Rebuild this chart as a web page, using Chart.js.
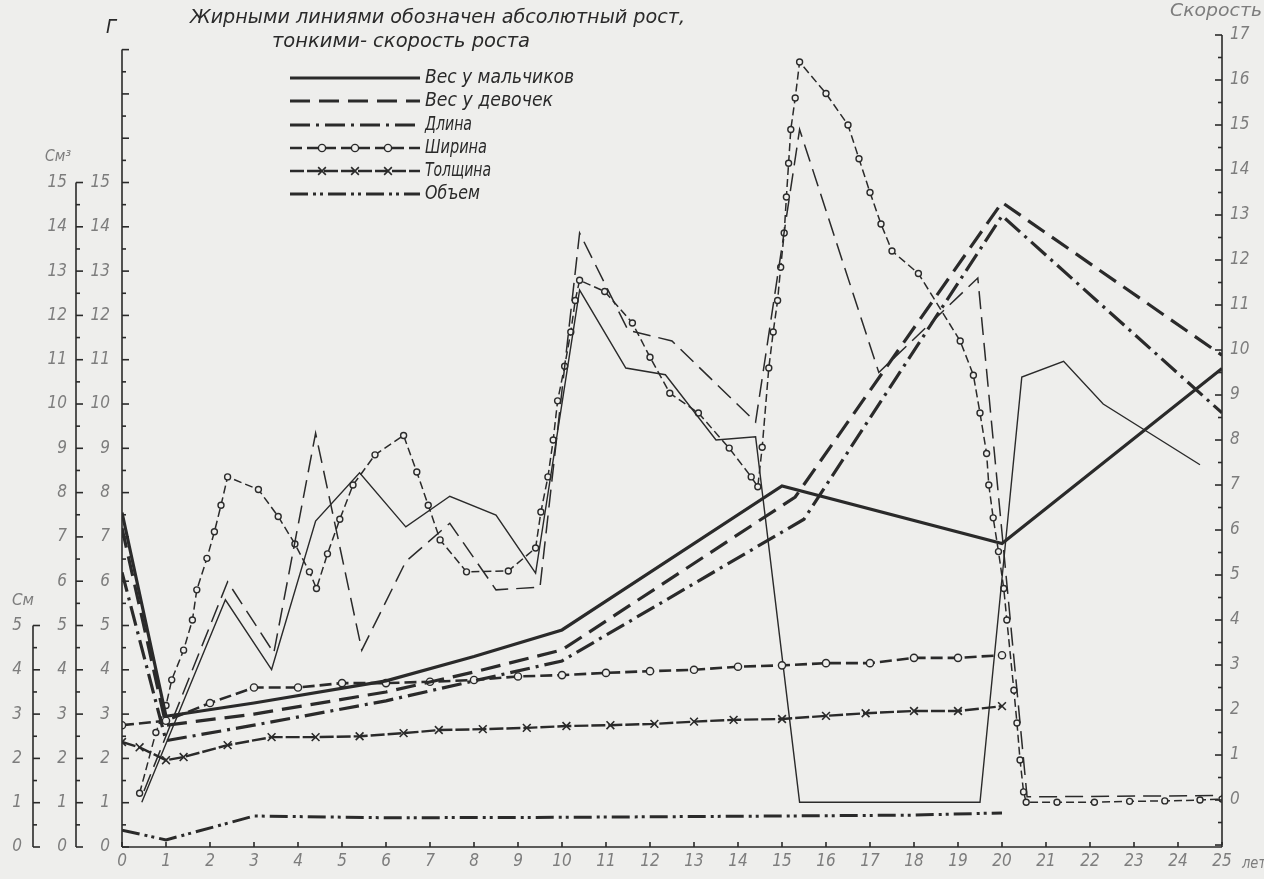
<!DOCTYPE html>
<html lang="ru">
<head>
<meta charset="utf-8">
<title>Абсолютный рост и скорость роста</title>
<script src="https://cdn.jsdelivr.net/npm/chart.js@4.4.1/dist/chart.umd.min.js"></script>
<style>
  html, body { margin: 0; padding: 0; background: #eeeeec; }
  #chart { display: block; }
</style>
</head>
<body>
<canvas id="chart" width="1264" height="879"></canvas>
<script>
// Tick labels
const years = [0, 1, 2, 3, 4, 5, 6, 7, 8, 9, 10, 11, 12, 13, 14, 15, 16, 17, 18, 19, 20, 21, 22, 23, 24, 25];
const gTicks = [0, 1, 2, 3, 4, 5, 6, 7, 8, 9, 10, 11, 12, 13, 14, 15];
const cm3Ticks = [0, 1, 2, 3, 4, 5, 6, 7, 8, 9, 10, 11, 12, 13, 14, 15];
const cmTicks = [0, 1, 2, 3, 4, 5];
const speedTicks = [0, 1, 2, 3, 4, 5, 6, 7, 8, 9, 10, 11, 12, 13, 14, 15, 16, 17];

const seriesNames = ["Вес у мальчиков", "Вес у девочек", "Длина", "Ширина", "Толщина", "Объем"];

// Absolute growth (thick lines, left scales: г, см, см³)
const boysWeightX = [0, 1, 3, 6, 8, 10, 11, 15, 20, 25];
const boysWeight = [7.55, 2.95, 3.25, 3.75, 4.3, 4.9, 5.55, 8.15, 6.85, 10.8];
const girlsWeightX = [0, 1, 3, 6, 8, 10, 15.3, 20, 25];
const girlsWeight = [7.2, 2.75, 3.0, 3.5, 3.95, 4.45, 7.9, 14.55, 11.1];
const lengthX = [0, 1, 3, 6, 8, 10, 15.5, 20, 25];
const lengthAbs = [6.2, 2.4, 2.75, 3.3, 3.75, 4.2, 7.4, 14.25, 9.8];
const widthX = [0, 1, 2, 3, 4, 5, 6, 7, 8, 9, 10, 11, 12, 13, 14, 15, 16, 17, 18, 19, 20];
const widthAbs = [2.75, 2.85, 3.25, 3.6, 3.6, 3.7, 3.7, 3.73, 3.77, 3.85, 3.88, 3.93, 3.97, 4.0, 4.07, 4.1, 4.15, 4.15, 4.27, 4.27, 4.33];
const thickX = [0, 0.4, 1, 1.4, 2.4, 3.4, 4.4, 5.4, 6.4, 7.2, 8.2, 9.2, 10.1, 11.1, 12.1, 13, 13.9, 15, 16, 16.9, 18, 19, 20];
const thickAbs = [2.37, 2.25, 1.96, 2.03, 2.3, 2.48, 2.48, 2.5, 2.57, 2.64, 2.66, 2.69, 2.73, 2.75, 2.78, 2.83, 2.87, 2.89, 2.96, 3.02, 3.07, 3.07, 3.18];
const volumeX = [0, 1, 3, 6, 10, 15, 18, 20];
const volumeAbs = [0.38, 0.16, 0.7, 0.66, 0.67, 0.7, 0.72, 0.77];

// Growth speed (thin lines, right scale)
const boysSpeedX = [0.45, 2.35, 3.4, 4.4, 5.4, 6.45, 7.45, 8.5, 9.4, 10.4, 11.45, 12.35, 13.5, 14.4, 15.4, 19.5, 20.45, 21.4, 22.3, 24.5];
const boysSpeed = [-0.05, 4.45, 2.9, 6.2, 7.27, 6.07, 6.75, 6.33, 5.04, 11.33, 9.6, 9.45, 8.0, 8.07, -0.05, -0.05, 9.4, 9.75, 8.8, 7.45];
const girlsSpeedX = [0.5, 2.4, 3.45, 4.4, 5.45, 6.45, 7.45, 8.5, 9.5, 10.4, 11.5, 12.5, 14.4, 15.4, 17.2, 19.45, 20.57, 25];
const girlsSpeed = [0.2, 4.85, 3.27, 8.15, 3.33, 5.3, 6.15, 4.67, 4.73, 12.6, 10.44, 10.2, 8.4, 14.9, 9.5, 11.6, 0.07, 0.1];
const widthSpeedX = [0.4, 0.77, 1.0, 1.13, 1.4, 1.6, 1.7, 1.93, 2.1, 2.25, 2.4, 3.1, 3.55, 3.93, 4.26, 4.42, 4.67, 4.95, 5.25, 5.75, 6.4,
  6.7, 6.96, 7.23, 7.83, 8.78, 9.4, 9.52, 9.68, 9.8, 9.9, 10.06, 10.2, 10.3, 10.4, 10.97, 11.6, 12.0, 12.45, 13.1, 13.8, 14.3, 14.45,
  14.55, 14.7, 14.8, 14.9, 14.97, 15.05, 15.1, 15.15, 15.2, 15.3, 15.4, 16.0, 16.5, 16.75, 17.0, 17.25, 17.5, 18.1, 19.05, 19.35, 19.5,
  19.65, 19.7, 19.8, 19.92, 20.04, 20.11, 20.27, 20.34, 20.41, 20.49, 20.55, 21.25, 22.1, 22.9, 23.7, 24.5, 25];
const widthSpeed = [0.15, 1.5, 2.1, 2.67, 3.33, 4.0, 4.67, 5.37, 5.96, 6.55, 7.18, 6.9, 6.3, 5.69, 5.07, 4.7, 5.47, 6.24, 7.0, 7.67, 8.1,
  7.29, 6.55, 5.78, 5.07, 5.09, 5.6, 6.4, 7.18, 8.0, 8.87, 9.64, 10.4, 11.1, 11.55, 11.3, 10.6, 9.84, 9.04, 8.6, 7.82, 7.18, 6.96,
  7.84, 9.6, 10.4, 11.1, 11.84, 12.6, 13.4, 14.15, 14.9, 15.6, 16.4, 15.7, 15.0, 14.25, 13.5, 12.8, 12.2, 11.7, 10.2, 9.44, 8.6,
  7.7, 7.0, 6.27, 5.52, 4.7, 4.0, 2.44, 1.71, 0.89, 0.18, -0.05, -0.05, -0.05, -0.03, -0.02, 0.0, 0.02];

// Styling
const INK = "#2a2a2a";
const TICK_INK = "#7d7d7d";
const PAPER = "#eeeeec";
const FAMILY = "'DejaVu Sans Condensed', 'Liberation Sans Narrow', 'DejaVu Sans', sans-serif";
const LEFT_MAX = 18.33;
const RIGHT_MIN = -1.044;

function pts(xs, ys) {
  return xs.map((x, i) => ({ x: x, y: ys[i] }));
}

function fixedTicks(values) {
  return (scale) => {
    scale.ticks = values.map((v) => ({ value: v }));
  };
}

const tickFont = { family: FAMILY, size: 17, style: "italic" };

function line(ctx, x1, y1, x2, y2) {
  ctx.beginPath();
  ctx.moveTo(x1, y1);
  ctx.lineTo(x2, y2);
  ctx.stroke();
}

// Draws italic text squeezed/stretched to a given width
function fitText(ctx, str, x, y, size, width, align, color) {
  ctx.save();
  ctx.font = "italic " + size + "px " + FAMILY;
  const w = ctx.measureText(str).width;
  ctx.translate(x, y);
  ctx.scale(width ? width / w : 1, 1);
  ctx.textAlign = align || "left";
  ctx.textBaseline = "middle";
  ctx.fillStyle = color || INK;
  ctx.fillText(str, 0, 0);
  ctx.restore();
}

function leftAxis(ctx, sc, top) {
  const x = sc.right;
  line(ctx, x, sc.getPixelForValue(0), x, sc.getPixelForValue(top));
  for (let v = 0; v <= top + 1e-6; v += 0.5) {
    const y = sc.getPixelForValue(v);
    line(ctx, x, y, x + (v % 1 === 0 ? 7 : 4), y);
  }
}

function drawMarker(ctx, style, x, y, r) {
  ctx.save();
  ctx.setLineDash([]);
  ctx.beginPath();
  if (style === "circle") {
    ctx.arc(x, y, r, 0, Math.PI * 2);
    ctx.fillStyle = PAPER;
    ctx.fill();
    ctx.stroke();
  } else {
    ctx.moveTo(x - r * 0.7, y - r * 0.7);
    ctx.lineTo(x + r * 0.7, y + r * 0.7);
    ctx.moveTo(x + r * 0.7, y - r * 0.7);
    ctx.lineTo(x - r * 0.7, y + r * 0.7);
    ctx.stroke();
  }
  ctx.restore();
}

const decor = {
  id: "decor",
  afterDraw(chart) {
    const ctx = chart.ctx;
    const s = chart.scales;
    ctx.save();
    ctx.strokeStyle = INK;
    ctx.lineWidth = 1.6;

    // left axes, ticks pointing into the plot
    leftAxis(ctx, s.y, 18);
    leftAxis(ctx, s.yCm3, 15);
    leftAxis(ctx, s.yCm, 5);

    // right (speed) axis
    const xr = s.yR.left;
    line(ctx, xr, s.yR.getPixelForValue(-1), xr, s.yR.getPixelForValue(17));
    for (let v = -1; v <= 17 + 1e-6; v += 0.5) {
      const y = s.yR.getPixelForValue(v);
      line(ctx, xr, y, xr - (v % 1 === 0 ? 7 : 4), y);
    }

    // age axis
    const yb = s.x.top;
    line(ctx, s.x.getPixelForValue(0), yb, s.x.getPixelForValue(25), yb);
    years.forEach((v) => {
      const x = s.x.getPixelForValue(v);
      line(ctx, x, yb, x, yb - 5);
    });

    // axis titles
    fitText(ctx, "Г", 106, 28, 20, 0, "left", INK);
    fitText(ctx, "См³", 45, 157, 15, 26, "left", TICK_INK);
    fitText(ctx, "См", 12, 601, 15, 22, "left", TICK_INK);
    fitText(ctx, "Скорость", 1262, 12, 17, 92, "right", TICK_INK);
    fitText(ctx, "лет", 1242, 864, 16, 24, "left", TICK_INK);

    // legend
    fitText(ctx, "Жирными линиями обозначен абсолютный рост,", 190, 18, 19, 495, "left", INK);
    fitText(ctx, "тонкими- скорость роста", 272, 42, 19, 258, "left", INK);
    const rowY = [78, 101, 125, 148, 171, 194];
    const textW = [149, 128, 47, 62, 66, 55];
    seriesNames.forEach((name, i) => {
      const ds = chart.data.datasets[i];
      const y = rowY[i];
      ctx.save();
      ctx.lineWidth = ds.borderWidth;
      ctx.setLineDash(ds.borderDash || []);
      line(ctx, 290, y, 420, y);
      ctx.restore();
      if (ds.pointRadius > 0) {
        ctx.save();
        ctx.lineWidth = ds.pointBorderWidth;
        [322, 355, 388].forEach((mx) => drawMarker(ctx, ds.pointStyle, mx, y, ds.pointRadius));
        ctx.restore();
      }
      fitText(ctx, name, 425, y, 19, textW[i], "left", INK);
    });
    ctx.restore();
  },
};

function thick(label, xs, ys, dash, width, extra) {
  return Object.assign({
    label: label,
    data: pts(xs, ys),
    yAxisID: "y",
    borderColor: INK,
    borderWidth: width,
    borderDash: dash,
    pointRadius: 0,
    tension: 0,
  }, extra || {});
}

function thin(label, xs, ys, dash, width, extra) {
  return Object.assign({
    label: label,
    data: pts(xs, ys),
    yAxisID: "yR",
    borderColor: INK,
    borderWidth: width,
    borderDash: dash,
    pointRadius: 0,
    tension: 0,
  }, extra || {});
}

const circleMarks = (r) => ({
  pointStyle: "circle",
  pointRadius: r,
  pointBackgroundColor: PAPER,
  pointBorderColor: INK,
  pointBorderWidth: 1.4,
});

new Chart(document.getElementById("chart"), {
  type: "line",
  data: {
    datasets: [
      thick(seriesNames[0], boysWeightX, boysWeight, [], 3.2),
      thick(seriesNames[1], girlsWeightX, girlsWeight, [20, 9], 3.2),
      thick(seriesNames[2], lengthX, lengthAbs, [20, 6, 3, 6], 3.2),
      thick(seriesNames[3], widthX, widthAbs, [12, 5], 2.6, circleMarks(3.6)),
      thick(seriesNames[4], thickX, thickAbs, [14, 3], 2.4, {
        pointStyle: "crossRot",
        pointRadius: 5.5,
        pointBorderColor: INK,
        pointBorderWidth: 1.6,
      }),
      thick(seriesNames[5], volumeX, volumeAbs, [18, 5, 3, 4, 3, 5], 3),
      thin(seriesNames[0] + " — скорость", boysSpeedX, boysSpeed, [], 1.4),
      thin(seriesNames[1] + " — скорость", girlsSpeedX, girlsSpeed, [18, 8], 1.5),
      thin(seriesNames[3] + " — скорость", widthSpeedX, widthSpeed, [8, 4], 1.5, circleMarks(3)),
    ],
  },
  options: {
    responsive: false,
    animation: false,
    layout: { autoPadding: false, padding: { top: 35, left: 0, right: 0, bottom: 0 } },
    plugins: { legend: { display: false }, tooltip: { enabled: false } },
    scales: {
      x: {
        type: "linear",
        min: 0,
        max: 25,
        afterBuildTicks: fixedTicks(years),
        afterFit: (s) => { s.height = 32; },
        grid: { display: false, drawTicks: false },
        border: { display: false },
        ticks: { font: tickFont, color: TICK_INK, padding: 4, maxRotation: 0, autoSkip: false },
      },
      y: {
        position: "left",
        weight: 0,
        min: 0,
        max: LEFT_MAX,
        afterBuildTicks: fixedTicks(gTicks),
        afterFit: (s) => { s.width = 46; },
        grid: { display: false, drawTicks: false },
        border: { display: false },
        ticks: { font: tickFont, color: TICK_INK, padding: 12, autoSkip: false },
      },
      yCm3: {
        position: "left",
        weight: 1,
        min: 0,
        max: LEFT_MAX,
        afterBuildTicks: fixedTicks(cm3Ticks),
        afterFit: (s) => { s.width = 43; },
        grid: { display: false, drawTicks: false },
        border: { display: false },
        ticks: { font: tickFont, color: TICK_INK, padding: 9, autoSkip: false },
      },
      yCm: {
        position: "left",
        weight: 2,
        min: 0,
        max: LEFT_MAX,
        afterBuildTicks: fixedTicks(cmTicks),
        afterFit: (s) => { s.width = 33; },
        grid: { display: false, drawTicks: false },
        border: { display: false },
        ticks: { font: tickFont, color: TICK_INK, padding: 11, autoSkip: false },
      },
      yR: {
        position: "right",
        min: RIGHT_MIN,
        max: 17,
        afterBuildTicks: fixedTicks(speedTicks),
        afterFit: (s) => { s.width = 42; },
        grid: { display: false, drawTicks: false },
        border: { display: false },
        ticks: { font: tickFont, color: TICK_INK, padding: 8, autoSkip: false },
      },
    },
  },
  plugins: [decor],
});
</script>
</body>
</html>
